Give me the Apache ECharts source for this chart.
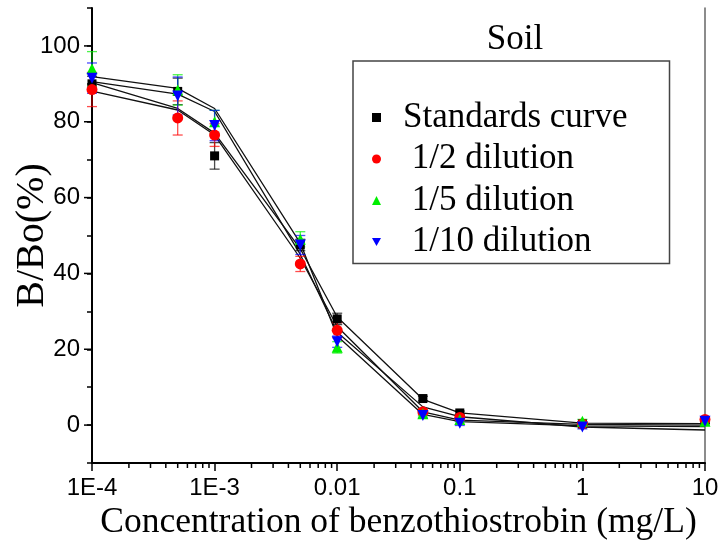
<!DOCTYPE html>
<html>
<head>
<meta charset="utf-8">
<script src="https://cdn.jsdelivr.net/npm/echarts@6/dist/echarts.min.js"></script>
<style>
  html, body { margin: 0; padding: 0; background: #fff; }
  #chart { width: 723px; height: 550px; }
</style>
</head>
<body>
<div id="chart"></div>
<script>
// concentrations (mg/L)
const conc = [0.0001, 0.0005, 0.001, 0.005, 0.01, 0.05, 0.1, 1, 10];

// measured B/Bo (%) and error bars
const stdVal = [90, 88, 71, 47.5, 28, 7, 3.2, 0.3, 1];
const stdErr = [2, 3.5, 3.5, 1.5, 1.5, 0.6, 0.5, 0.4, 0.5];
const halfVal = [88.5, 81, 76.5, 42.5, 25, 3.5, 2, 0.3, 1.5];
const halfErr = [4.5, 4.5, 3, 2, 2, 0.8, 0.6, 0.4, 0.5];
const fifthVal = [94, 88.4, 80, 49, 20.5, 3, 1.5, 1, 1];
const fifthErr = [4.5, 4, 3, 2, 1.5, 0.6, 0.6, 0.5, 0.5];
const tenthVal = [91.5, 86.8, 79, 47.5, 22, 2.5, 0.5, -0.5, 1];
const tenthErr = [4, 5, 4, 2.5, 1.5, 0.6, 0.6, 0.5, 0.5];

// fitted curves
const stdFit = [90.3, 83.5, 77, 46.5, 28.5, 6.8, 3.2, 0.5, 0.4];
const halfFit = [88.1, 83.1, 76.5, 44, 26, 3.5, 1.3, 0.2, 0];
const fifthFit = [91.9, 88.8, 83.5, 48, 23.5, 2.8, 0.9, -0.2, -0.4];
const tenthFit = [90.6, 87.3, 82.7, 45, 24.5, 4.8, 2.2, -0.5, -1.3];

const yMajor = [0, 20, 40, 60, 80, 100];

const downTri = 'path://M0,0 L10,0 L5,9 Z';

const groups = [
  { name: 'Standards curve', val: stdVal, err: stdErr, fit: stdFit, color: '#000000', symbol: 'rect', icon: 'rect', size: 9, rot: 0 },
  { name: ' 1/2 dilution', val: halfVal, err: halfErr, fit: halfFit, color: '#ff0000', symbol: 'circle', icon: 'circle', size: 11, rot: 0 },
  { name: ' 1/5 dilution', val: fifthVal, err: fifthErr, fit: fifthFit, color: '#00ee00', symbol: 'triangle', icon: 'triangle', size: 11, rot: 0 },
  { name: ' 1/10 dilution', val: tenthVal, err: tenthErr, fit: tenthFit, color: '#0000ff', symbol: 'triangle', icon: downTri, size: 11, rot: 180 }
];

// minor log ticks 2..9 in each decade
const minorX = [];
for (let d = -4; d < 1; d++) {
  for (let k = 2; k <= 9; k++) minorX.push(k * Math.pow(10, d));
}

const chart = echarts.init(document.getElementById('chart'));

const serif = 'Liberation Serif';
const series = [];

groups.forEach(g => {
  series.push({
    type: 'line',
    silent: true,
    data: conc.map((c, i) => [c, g.fit[i]]),
    showSymbol: false,
    lineStyle: { color: '#111', width: 1.3 },
    z: 2
  });
});

groups.forEach(g => {
  series.push({
    type: 'custom',
    silent: true,
    data: conc.map((c, i) => [c, g.val[i] - g.err[i], g.val[i] + g.err[i]]),
    renderItem: function (params, api) {
      const lo = api.coord([api.value(0), api.value(1)]);
      const hi = api.coord([api.value(0), api.value(2)]);
      const w = 5;
      const st = { stroke: g.color, lineWidth: 1.3, opacity: 0.7 };
      return {
        type: 'group',
        children: [
          { type: 'line', shape: { x1: lo[0], y1: lo[1], x2: hi[0], y2: hi[1] }, style: st },
          { type: 'line', shape: { x1: lo[0] - w, y1: lo[1], x2: lo[0] + w, y2: lo[1] }, style: st },
          { type: 'line', shape: { x1: hi[0] - w, y1: hi[1], x2: hi[0] + w, y2: hi[1] }, style: st }
        ]
      };
    },
    z: 3
  });
});

groups.forEach(g => {
  series.push({
    name: g.name,
    type: 'scatter',
    data: conc.map((c, i) => [c, g.val[i]]),
    symbol: g.symbol,
    symbolSize: g.size,
    symbolRotate: g.rot,
    itemStyle: { color: g.color, opacity: 1 },
    z: 4
  });
});

// minor x ticks
series.push({
  type: 'custom',
  silent: true,
  data: minorX.map(v => [v, -10]),
  renderItem: function (params, api) {
    const p = api.coord([api.value(0), api.value(1)]);
    return { type: 'line', shape: { x1: p[0], y1: p[1], x2: p[0], y2: p[1] + 5 }, style: { stroke: '#000', lineWidth: 1.5 } };
  },
  z: 5
});

// longer major y ticks
series.push({
  type: 'custom',
  silent: true,
  data: yMajor.map(v => [0.0001, v]),
  renderItem: function (params, api) {
    const p = api.coord([api.value(0), api.value(1)]);
    return { type: 'line', shape: { x1: p[0] - 8, y1: p[1], x2: p[0], y2: p[1] }, style: { stroke: '#000', lineWidth: 1.5 } };
  },
  z: 5
});

const option = {
  backgroundColor: '#fff',
  animation: false,
  title: {
    text: 'Soil',
    left: 510,
    top: 17,
    textAlign: 'center',
    textStyle: { fontFamily: serif, fontSize: 35, fontWeight: 'normal', color: '#000' }
  },
  legend: {
    data: groups.map(g => ({ name: g.name, icon: g.icon })),
    orient: 'vertical',
    left: 353,
    top: 61,
    padding: [39, 42, 4, 19],
    itemWidth: 9,
    itemHeight: 9,
    itemGap: 6.5,
    borderColor: '#444',
    borderWidth: 1.5,
    textStyle: { fontFamily: serif, fontSize: 35, color: '#000', lineHeight: 34, padding: [0, 0, 0, 17] }
  },
  grid: { left: 92, right: 18, top: 8, bottom: 87, outerBoundsMode: 'none', containLabel: false },
  xAxis: {
    type: 'log',
    logBase: 10,
    min: 0.0001,
    max: 10,
    name: 'Concentration of benzothiostrobin (mg/L)',
    nameLocation: 'middle',
    nameGap: 40,
    nameTextStyle: { fontFamily: serif, fontSize: 35.5, color: '#000' },
    axisLine: { onZero: false, lineStyle: { color: '#000', width: 2 } },
    axisTick: { inside: false, length: 8, lineStyle: { color: '#000', width: 1.5 } },
    axisLabel: {
      fontFamily: 'Liberation Sans',
      fontSize: 24,
      color: '#000',
      margin: 13,
      formatter: function (v) {
        const e = Math.round(Math.log10(v));
        if (e <= -3) return '1E' + e;
        if (e < 0) return Math.pow(10, e).toFixed(-e);
        return String(Math.pow(10, e));
      }
    },
    splitLine: { show: false }
  },
  yAxis: [{
    type: 'value',
    min: -10,
    max: 110,
    interval: 10,
    name: 'B/Bo(%)',
    nameLocation: 'middle',
    nameGap: 40,
    nameMoveOverlap: false,
    nameTextStyle: { fontFamily: serif, fontSize: 40, color: '#000' },
    axisLine: { onZero: false, lineStyle: { color: '#000', width: 2 } },
    axisTick: { length: 5, lineStyle: { color: '#000', width: 1.5 } },
    axisLabel: {
      fontFamily: 'Liberation Sans',
      fontSize: 24,
      color: '#000',
      margin: 12,
      formatter: function (v) { return (v >= 0 && v <= 100 && v % 20 === 0) ? String(v) : ''; }
    },
    splitLine: { show: false }
  }, {
    type: 'value',
    position: 'right',
    min: -10,
    max: 110,
    interval: 10,
    axisLine: { show: true, onZero: false, lineStyle: { color: '#666', width: 1.5 } },
    axisTick: { show: false },
    axisLabel: { show: false },
    splitLine: { show: false }
  }],
  series: series
};

chart.setOption(option);
</script>
</body>
</html>
